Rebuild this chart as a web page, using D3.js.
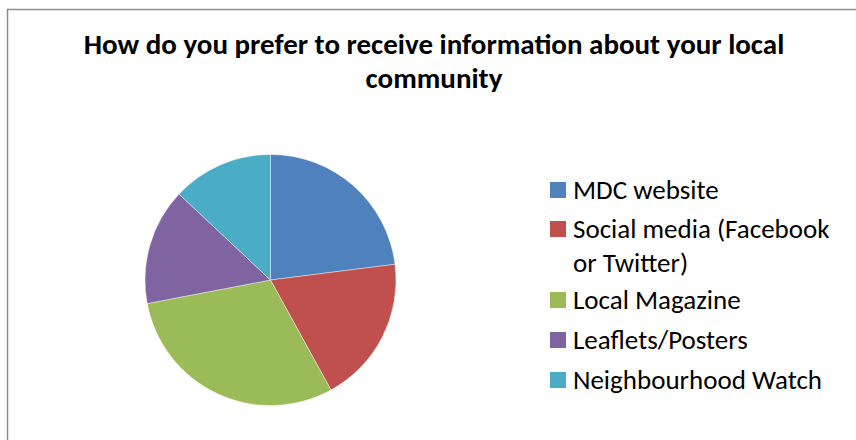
<!DOCTYPE html>
<html>
<head>
<meta charset="utf-8">
<script src="https://cdn.jsdelivr.net/npm/d3@7"></script>
<style>
  body { margin: 0; background: #fff; }
  text { font-family: Carlito, Calibri, Lato, "Open Sans", sans-serif; }
</style>
</head>
<body>
<script>
let categories = ['MDC website', 'Social media (Facebook or Twitter)', 'Local Magazine', 'Leaflets/Posters', 'Neighbourhood Watch'];
let values = [23, 19, 30, 15, 13];
let legendLines = [['MDC website'], ['Social media (Facebook', 'or Twitter)'], ['Local Magazine'], ['Leaflets/Posters'], ['Neighbourhood Watch']];
let colors = ['#4F81BD', '#C0504D', '#9BBB59', '#8064A2', '#4BACC6'];
let titleLines = ['How do you prefer to receive information about your local', 'community'];

let width = 856, height = 440;
let svg = d3.select('body').append('svg')
    .attr('width', width)
    .attr('height', height);

// chart frame
svg.append('rect')
    .attr('x', 7.5).attr('y', 9.5)
    .attr('width', width).attr('height', height)
    .attr('fill', 'white')
    .attr('stroke', '#8c8c8c')
    .attr('stroke-width', 1.5);

// title
svg.append('g').selectAll('text')
    .data(titleLines)
    .enter().append('text')
    .attr('x', 434)
    .attr('y', (d, i) => 54 + i * 34)
    .attr('text-anchor', 'middle')
    .attr('font-size', 29)
    .attr('font-weight', 'bold')
    .attr('fill', '#000')
    .text(d => d);

// pie
let radius = 125.5;
let pie = d3.pie().sort(null).value(d => d);
let arc = d3.arc().innerRadius(0).outerRadius(radius);
let color = d3.scaleOrdinal().domain(categories).range(colors);

let pieGroup = svg.append('g')
    .attr('transform', 'translate(270.5, 280)');
pieGroup.selectAll('path')
    .data(pie(values))
    .enter().append('path')
    .attr('d', arc)
    .attr('fill', (d, i) => color(categories[i]))
    .attr('stroke', 'white')
    .attr('stroke-width', 0.4);

// legend
let legendY = [190, 229, 300, 340, 380];
let legend = svg.append('g').selectAll('g')
    .data(categories)
    .enter().append('g')
    .attr('transform', (d, i) => `translate(550, ${legendY[i]})`);
legend.append('rect')
    .attr('x', 0).attr('y', -8)
    .attr('width', 16).attr('height', 16)
    .attr('fill', d => color(d));
legend.append('text')
    .attr('x', 23)
    .attr('y', 9)
    .attr('font-size', 27)
    .attr('fill', '#000')
    .selectAll('tspan')
    .data((d, i) => legendLines[i])
    .enter().append('tspan')
    .attr('x', 23)
    .attr('dy', (d, i) => i === 0 ? 0 : 34)
    .text(d => d);
</script>
</body>
</html>
